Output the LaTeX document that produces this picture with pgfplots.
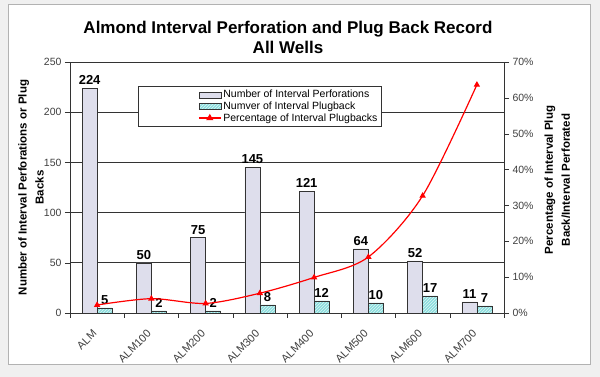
\documentclass[border=0pt]{standalone}
\usepackage{pgfplots}
\pgfplotsset{compat=1.18}
\usepackage{fontspec}
\setmainfont{Liberation Sans}
\usetikzlibrary{patterns}
\definecolor{barA}{RGB}{222,222,236}
\definecolor{barB}{RGB}{140,222,222}
\begin{document}
\begin{tikzpicture}[x=1pt,y=1pt]
\fill[gray!12] (0,0) rectangle (600,377);
\fill[white, draw=gray!60, line width=1pt] (8,12) rectangle (590,372);
\useasboundingbox (0,0) rectangle (600,377);
\node[font=\bfseries\fontsize{17}{20}\selectfont, align=center] at (288,340) {Almond Interval Perforation and Plug Back Record\\All Wells};
\begin{axis}[at={(70pt,64pt)}, anchor=south west, scale only axis, width=434pt, height=251pt,
  ybar=0pt, bar width=15pt,
  xmin=-0.5, xmax=7.5, ymin=0, ymax=250,
  ytick={0,50,...,250}, ymajorgrids, grid style={black!80, line width=0.6pt},
  xtick={0,1,2,3,4,5,6,7},
  xticklabels={ALM,ALM100,ALM200,ALM300,ALM400,ALM500,ALM600,ALM700},
  major x tick style={draw=none},
  minor xtick={-0.5,0.5,...,7.5}, minor tick length=5pt,
  x tick label style={xshift=-5pt, yshift=-6pt, rotate=45, anchor=north east, font=\fontsize{11}{13}\selectfont},
  tick align=outside, xtick pos=bottom, ytick pos=left, major tick length=5pt,
  axis line style={black!80}, tick style={black!80},
  ticklabel style={font=\fontsize{10.5}{12}\selectfont, text=black!75},
  /pgf/number format/assume math mode=true,
  ylabel={Number of Interval Perforations or Plug\\Backs},
  ylabel style={at={(axis description cs:-0.09,0.5)}, anchor=center, font=\bfseries\fontsize{11.5}{17}\selectfont, align=center},
  nodes near coords, every node near coord/.append style={font=\bfseries\fontsize{13}{15}\selectfont, text=black},
]
\addplot[draw=black!80, fill=barA] coordinates {(0,224) (1,50) (2,75) (3,145) (4,121) (5,64) (6,52) (7,11)};
\addplot[draw=black!80, fill=barB, postaction={pattern=north east lines, pattern color=white!70!barB}] coordinates {(0,5) (1,2) (2,2) (3,8) (4,12) (5,10) (6,17) (7,7)};
\end{axis}
\begin{axis}[at={(70pt,64pt)}, anchor=south west, scale only axis, width=434pt, height=251pt,
  xmin=-0.5, xmax=7.5, ymin=0, ymax=70,
  ytick={0,10,...,70}, yticklabel={\pgfmathprintnumber{\tick}\%},
  axis y line*=right, axis x line=none,
  tick align=outside, major tick length=5pt,
  axis line style={black!80}, tick style={black!80},
  ticklabel style={font=\fontsize{10.5}{12}\selectfont, text=black!75},
  /pgf/number format/assume math mode=true,
  ylabel={Percentage of Interval Plug\\Back/Interval Perforated},
  ylabel style={at={(axis description cs:1.123,0.53)}, anchor=center, font=\bfseries\fontsize{11.5}{17}\selectfont, align=center},
  legend style={at={(0.1567,0.904)}, anchor=north west, draw=black!80, fill=white,
    font=\fontsize{10.5}{11}\selectfont, inner ysep=2pt, inner xsep=2pt, row sep=-1.5pt},
  legend cell align=left,
]
\addlegendimage{legend image code/.code={\path (-58pt,0pt); \draw[draw=black!80, fill=barA] (0pt,-3pt) rectangle (22pt,3pt);}}
\addlegendentry{Number of Interval Perforations}
\addlegendimage{legend image code/.code={\path (-58pt,0pt); \draw[draw=black!80, fill=barB, postaction={pattern=north east lines, pattern color=white!70!barB}] (0pt,-3pt) rectangle (22pt,3pt);}}
\addlegendentry{Numver of Interval Plugback}
\addplot[red, line width=1.2pt, smooth, mark=triangle*, mark size=2.5pt, mark options={fill=red},
  legend image code/.code={\path (-58pt,0pt); \draw[red, line width=1.2pt] (0pt,0pt) -- (22pt,0pt); \draw[red,fill=red] (11pt,3pt) -- (8.4pt,-1.5pt) -- (13.6pt,-1.5pt) -- cycle;}]
  coordinates {(0,2.23) (1,4.0) (2,2.67) (3,5.52) (4,9.92) (5,15.63) (6,32.69) (7,63.64)};
\addlegendentry{Percentage of Interval Plugbacks\hspace{21pt}}
\end{axis}
\end{tikzpicture}
\end{document}
